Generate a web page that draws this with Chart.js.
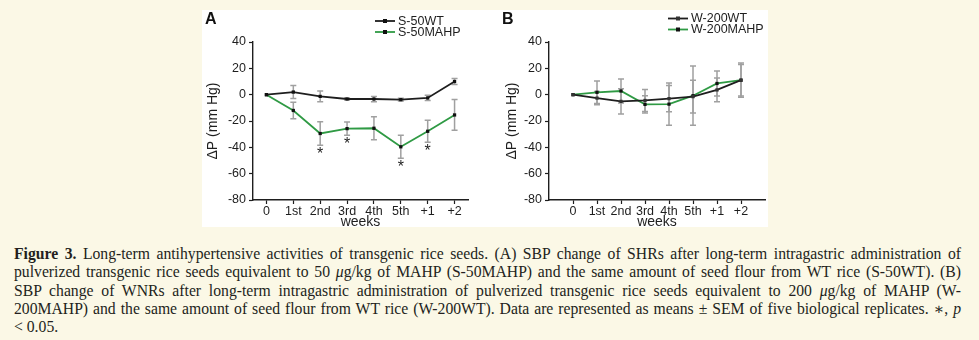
<!DOCTYPE html>
<html>
<head>
<meta charset="utf-8">
<script src="https://cdn.jsdelivr.net/npm/chart.js@4.4.1/dist/chart.umd.min.js"></script>
<style>
  html, body { margin: 0; padding: 0; background: #fbf8e6; }
  body { width: 979px; height: 340px; position: relative; overflow: hidden; }
  #panel { position: absolute; left: 202px; top: 10px; width: 566px; height: 217px; background: #ffffff; }
  #ca { position: absolute; left: 202px; top: 10px; }
  #cb { position: absolute; left: 490px; top: 10px; }
  #caption { position: absolute; left: 14px; top: 245px; width: 947px;
             font-family: "Liberation Serif", "DejaVu Serif", serif; font-size: 15.7px;
             line-height: 18.3px; color: #231f20; }
  #caption .ln { text-align: justify; text-align-last: justify; white-space: nowrap; }
  #caption .ln.last { text-align-last: left; }
</style>
</head>
<body>
<div id="panel"></div>
<canvas id="ca" width="288" height="222"></canvas>
<canvas id="cb" width="278" height="222"></canvas>
<div id="caption">
  <div class="ln"><b>Figure 3.</b> Long-term antihypertensive activities of transgenic rice seeds. (A) SBP change of SHRs after long-term intragastric administration of</div>
  <div class="ln">pulverized transgenic rice seeds equivalent to 50 <i>μ</i>g/kg of MAHP (S-50MAHP) and the same amount of seed flour from WT rice (S-50WT). (B)</div>
  <div class="ln">SBP change of WNRs after long-term intragastric administration of pulverized transgenic rice seeds equivalent to 200 <i>μ</i>g/kg of MAHP (W-</div>
  <div class="ln">200MAHP) and the same amount of seed flour from WT rice (W-200WT). Data are represented as means ± SEM of five biological replicates. ∗, <i>p</i></div>
  <div class="ln last">&lt; 0.05.</div>
</div>
<script>
// Week labels shared by both panels
const weekLabels = ['0', '1st', '2nd', '3rd', '4th', '5th', '+1', '+2'];

// Panel A: SHRs, 50 µg/kg
const s50wt      = [0, 2, -1.3, -3.3, -3.3, -3.8, -2.5, 10];
const s50wtErr   = [0, 5, 4, 0.8, 2, 1, 2, 2.3];
const s50mahp    = [0, -12, -29.5, -25.8, -25.5, -39.6, -27.8, -15.4];
const s50mahpErr = [0, 6.3, 9, 5, 8.7, 8.7, 8.3, 11.7];
const s50sig     = [false, false, true, true, false, true, true, false];

// Panel B: WNRs, 200 µg/kg
const w200wt      = [0, -2.6, -5.1, -4.4, -3, -1.5, 3.6, 11];
const w200wtErr   = [0, 5, 9.5, 8.4, 10, 12.5, 9, 13];
const w200mahp    = [0, 1.8, 2.8, -7.4, -7.2, -0.8, 8.5, 11];
const w200mahpErr = [0, 8.6, 9.1, 6.5, 16, 22.5, 9.5, 12];

const SANS = '"Liberation Sans", Arial, sans-serif';
const INK = '#1e1e1e';
const GREEN = '#2f9a44';

// Error bars, significance stars, legend and panel letter
const decor = {
  id: 'decor',
  beforeDatasetsDraw(chart) {
    const { ctx, scales: { x, y } } = chart;
    ctx.save();
    ctx.strokeStyle = '#a0a0a0';
    ctx.lineWidth = 1.5;
    chart.data.datasets.forEach(ds => {
      ds.errors.forEach((e, i) => {
        if (!e) return;
        const v = ds.data[i].y;
        const px = x.getPixelForValue(i);
        const t = y.getPixelForValue(v + e);
        const b = y.getPixelForValue(v - e);
        ctx.beginPath();
        ctx.moveTo(px, t); ctx.lineTo(px, b);
        ctx.moveTo(px - 3, t); ctx.lineTo(px + 3, t);
        ctx.moveTo(px - 3, b); ctx.lineTo(px + 3, b);
        ctx.stroke();
      });
    });
    ctx.restore();
  },
  afterDraw(chart, args, opts) {
    const { ctx, scales: { x, y } } = chart;
    ctx.save();
    // significance stars
    ctx.fillStyle = INK;
    ctx.font = '16px ' + SANS;
    ctx.textAlign = 'center';
    ctx.textBaseline = 'alphabetic';
    chart.data.datasets.forEach(ds => {
      (ds.sig || []).forEach((s, i) => {
        if (!s) return;
        const v = ds.data[i].y;
        const cy = y.getPixelForValue(v - ds.errors[i]) + 4.8;
        const m = ctx.measureText('*');
        const mid = (m.actualBoundingBoxAscent - m.actualBoundingBoxDescent) / 2;
        ctx.fillText('*', x.getPixelForValue(i), cy + mid);
      });
    });
    // legend
    ctx.textAlign = 'left';
    ctx.textBaseline = 'middle';
    ctx.font = '12.5px ' + SANS;
    chart.data.datasets.forEach((ds, k) => {
      const ly = opts.legendY + k * opts.legendGap;
      const lx = opts.legendX;
      ctx.strokeStyle = ds.borderColor;
      ctx.lineWidth = 1.8;
      ctx.beginPath(); ctx.moveTo(lx, ly); ctx.lineTo(lx + 20, ly); ctx.stroke();
      ctx.fillStyle = ds.pointBackgroundColor;
      ctx.fillRect(lx + 10 - 2, ly - 2, 4, 4);
      ctx.fillStyle = INK;
      ctx.fillText(ds.label, lx + 23, ly + 0.5);
    });
    // panel letter
    ctx.font = 'bold 16px ' + SANS;
    ctx.textBaseline = 'alphabetic';
    ctx.fillStyle = '#111';
    ctx.fillText(opts.tag, opts.tagX, 14);
    ctx.restore();
  }
};

function buildChart(id, p) {
  return new Chart(document.getElementById(id), {
    type: 'line',
    data: {
      datasets: p.series.map(s => ({
        label: s.label,
        data: s.values.map((v, i) => ({ x: i, y: v })),
        errors: s.errors,
        sig: s.sig,
        borderColor: s.color,
        borderWidth: 1.8,
        backgroundColor: s.marker,
        pointBackgroundColor: s.marker,
        pointBorderColor: s.marker,
        pointBorderWidth: 0,
        pointStyle: 'rect',
        pointRadius: 2.3,
        pointHoverRadius: 2.3,
        tension: 0,
        fill: false
      }))
    },
    options: {
      responsive: false,
      animation: false,
      events: [],
      layout: { padding: { top: 32, right: p.padRight, left: 0, bottom: 0 } },
      plugins: {
        legend: { display: false },
        tooltip: { enabled: false },
        decor: { tag: p.tag, tagX: p.tagX, legendX: p.legendX, legendY: p.legendY, legendGap: 11 }
      },
      scales: {
        x: {
          type: 'linear',
          min: p.xMin,
          max: p.xMax,
          afterBuildTicks: sc => { sc.ticks = weekLabels.map((_, i) => ({ value: i })); },
          afterFit: sc => { sc.height = 32; },
          ticks: {
            callback: v => weekLabels[v],
            font: { family: SANS, size: 12.5 },
            color: INK,
            padding: 0,
            maxRotation: 0,
            autoSkip: false
          },
          grid: { drawOnChartArea: false, drawTicks: true, tickLength: 4, color: INK, tickWidth: 1.2 },
          border: { display: true, color: INK, width: 1.4 },
          title: { display: true, text: 'weeks', color: INK,
                   font: { family: SANS, size: 14 }, padding: { top: 0, bottom: 1 } }
        },
        y: {
          min: -80,
          max: 40,
          afterFit: sc => { sc.width = p.yWidth; },
          ticks: { stepSize: 20, font: { family: SANS, size: 12.5 }, color: INK, padding: 3 },
          grid: { drawOnChartArea: false, drawTicks: true, tickLength: 4, color: INK, tickWidth: 1.2 },
          border: { display: true, color: INK, width: 1.4 },
          title: { display: true, text: 'ΔP (mm Hg)', color: INK,
                   font: { family: SANS, size: 14 }, padding: { top: p.yTitlePad, bottom: 0 } }
        }
      }
    },
    plugins: [decor]
  });
}

buildChart('ca', {
  tag: 'A', tagX: 3, legendX: 173, legendY: 11,
  xMin: -0.5, xMax: 7.5, padRight: 22, yWidth: 51, yTitlePad: 3,
  series: [
    { label: 'S-50WT', values: s50wt, errors: s50wtErr, sig: [], color: INK, marker: '#111' },
    { label: 'S-50MAHP', values: s50mahp, errors: s50mahpErr, sig: s50sig, color: GREEN, marker: '#111' }
  ]
});

buildChart('cb', {
  tag: 'B', tagX: 12, legendX: 178, legendY: 8.5,
  xMin: -1, xMax: 8, padRight: 3, yWidth: 59, yTitlePad: 14,
  series: [
    { label: 'W-200WT', values: w200wt, errors: w200wtErr, sig: [], color: INK, marker: '#333' },
    { label: 'W-200MAHP', values: w200mahp, errors: w200mahpErr, sig: [], color: GREEN, marker: '#111' }
  ]
});
</script>
</body>
</html>
